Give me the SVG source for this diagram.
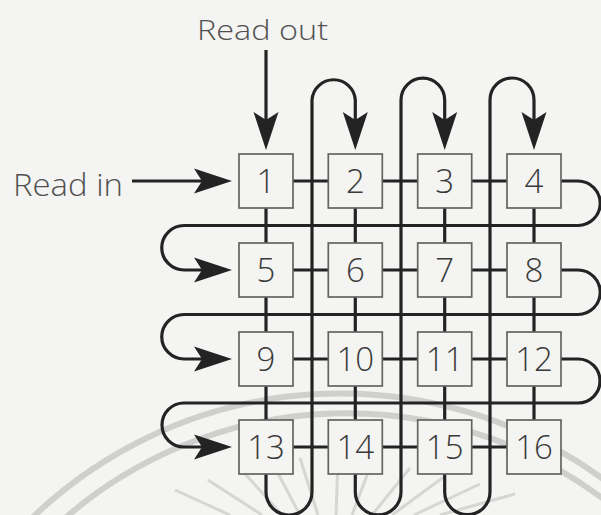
<svg xmlns="http://www.w3.org/2000/svg" width="601" height="515" viewBox="0 0 601 515">
  <defs>
    <style>
      .wire { fill: none; stroke: #232323; stroke-width: 3.2; }
      .cell rect { fill: #f4f4f2; stroke: #636363; stroke-width: 1.7; }
      .cell text { font-family: "Open Sans", "Liberation Sans", sans-serif; font-weight: 300; font-size: 33px; fill: #3a3a3a; text-anchor: middle; }
      .label { font-family: "Open Sans", "Liberation Sans", sans-serif; font-weight: 300; fill: #505050; }
      .mark { fill: none; stroke: #cfcfcd; }
    </style>
    <!-- barbed arrowhead; the path ends at the notch, the tip lies 30px further on -->
    <marker id="head" markerUnits="userSpaceOnUse" viewBox="-10 -14 42 28" markerWidth="42" markerHeight="28" refX="0" refY="0" orient="auto">
      <path d="M-8,-12.5 L30,0 L-8,12.5 L0,0 Z" fill="#232323"/>
    </marker>
  </defs>

  <rect width="601" height="515" fill="#f4f4f2"/>

  <!-- faint printed watermark behind the figure -->
  <g id="watermark">
    <path class="mark" stroke-width="6" d="M20,530 A445,445 0 0 1 620,492"/>
    <path class="mark" stroke-width="6" d="M52,530 A429,429 0 0 1 620,512"/>
    <g stroke-width="3" class="mark" opacity="0.8">
      <line x1="175" y1="490" x2="230" y2="515"/>
      <line x1="208" y1="480" x2="262" y2="515"/>
      <line x1="240" y1="468" x2="282" y2="515"/>
      <line x1="272" y1="462" x2="300" y2="515"/>
      <line x1="300" y1="458" x2="318" y2="515"/>
      <line x1="338" y1="460" x2="336" y2="515"/>
      <line x1="372" y1="462" x2="352" y2="515"/>
      <line x1="410" y1="468" x2="372" y2="515"/>
      <line x1="445" y1="476" x2="392" y2="515"/>
      <line x1="480" y1="484" x2="414" y2="515"/>
      <line x1="515" y1="494" x2="440" y2="515"/>
    </g>
  </g>

  <!-- shift paths: rows run left to right and wrap down, columns run down and wrap up -->
  <g id="connectors">
    <path class="wire" marker-end="url(#head)" d="M132,181 H202"/>
    <path class="wire" marker-end="url(#head)" d="M266,50 V120"/>

    <path class="wire" marker-end="url(#head)" d="M266,181 H578 A22.25,22.25 0 0 1 578,225.5 H184 A22.25,22.25 0 0 0 184,270 H202"/>
    <path class="wire" marker-end="url(#head)" d="M266,270 H578 A22.25,22.25 0 0 1 578,314.5 H184 A22.25,22.25 0 0 0 184,359 H202"/>
    <path class="wire" marker-end="url(#head)" d="M266,359 H578 A22,22 0 0 1 578,403 H184 A22,22 0 0 0 184,447 H202"/>
    <path class="wire" d="M266,447 H534"/>

    <path class="wire" marker-end="url(#head)" d="M266,181 V492 A23,23 0 0 0 312,492 V100 A21.7,21.7 0 0 1 355.3,100 V120"/>
    <path class="wire" marker-end="url(#head)" d="M355.3,181 V492 A22.85,22.85 0 0 0 401,492 V100 A21.85,21.85 0 0 1 444.7,100 V120"/>
    <path class="wire" marker-end="url(#head)" d="M444.7,181 V492 A22.65,22.65 0 0 0 490,492 V100 A22,22 0 0 1 534,100 V120"/>
    <path class="wire" d="M534,181 V447"/>
  </g>

  <!-- storage cells -->
  <g id="cell-1" class="cell"><rect x="239" y="154" width="54" height="54"/><text x="266" y="192.5">1</text></g>
  <g id="cell-2" class="cell"><rect x="328.3" y="154" width="54" height="54"/><text x="355.3" y="192.5">2</text></g>
  <g id="cell-3" class="cell"><rect x="417.7" y="154" width="54" height="54"/><text x="444.7" y="192.5">3</text></g>
  <g id="cell-4" class="cell"><rect x="507" y="154" width="54" height="54"/><text x="534" y="192.5">4</text></g>

  <g id="cell-5" class="cell"><rect x="239" y="243" width="54" height="54"/><text x="266" y="281.5">5</text></g>
  <g id="cell-6" class="cell"><rect x="328.3" y="243" width="54" height="54"/><text x="355.3" y="281.5">6</text></g>
  <g id="cell-7" class="cell"><rect x="417.7" y="243" width="54" height="54"/><text x="444.7" y="281.5">7</text></g>
  <g id="cell-8" class="cell"><rect x="507" y="243" width="54" height="54"/><text x="534" y="281.5">8</text></g>

  <g id="cell-9" class="cell"><rect x="239" y="332" width="54" height="54"/><text x="266" y="370.5">9</text></g>
  <g id="cell-10" class="cell"><rect x="328.3" y="332" width="54" height="54"/><text x="355.3" y="370.5">10</text></g>
  <g id="cell-11" class="cell"><rect x="417.7" y="332" width="54" height="54"/><text x="444.7" y="370.5">11</text></g>
  <g id="cell-12" class="cell"><rect x="507" y="332" width="54" height="54"/><text x="534" y="370.5">12</text></g>

  <g id="cell-13" class="cell"><rect x="239" y="420" width="54" height="54"/><text x="266" y="458.5">13</text></g>
  <g id="cell-14" class="cell"><rect x="328.3" y="420" width="54" height="54"/><text x="355.3" y="458.5">14</text></g>
  <g id="cell-15" class="cell"><rect x="417.7" y="420" width="54" height="54"/><text x="444.7" y="458.5">15</text></g>
  <g id="cell-16" class="cell"><rect x="507" y="420" width="54" height="54"/><text x="534" y="458.5">16</text></g>

  <g id="labels">
    <text class="label" x="197" y="40" font-size="28" textLength="131" lengthAdjust="spacingAndGlyphs">Read out</text>
    <text class="label" x="13" y="196" font-size="31" textLength="110" lengthAdjust="spacingAndGlyphs">Read in</text>
  </g>
</svg>
